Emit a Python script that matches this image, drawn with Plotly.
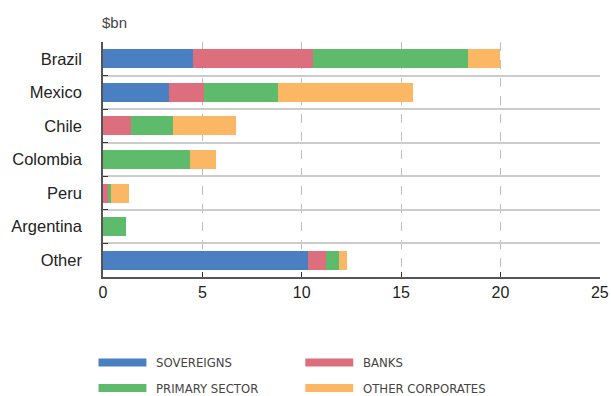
import plotly.graph_objects as go

categories = ["Brazil", "Mexico", "Chile", "Colombia", "Peru", "Argentina", "Other"]
sovereigns = [4.55, 3.3, 0, 0, 0, 0, 10.3]
banks = [6.0, 1.76, 1.4, 0, 0.28, 0, 0.92]
primary = [7.8, 3.74, 2.13, 4.4, 0.1, 1.18, 0.66]
other_corp = [1.65, 6.8, 3.17, 1.27, 0.94, 0, 0.39]

series_names = ["SOVEREIGNS", "BANKS", "PRIMARY SECTOR", "OTHER CORPORATES"]
series_values = [sovereigns, banks, primary, other_corp]
colors = ["#4a7fc1", "#dc6e7e", "#5dbb6b", "#fcb765"]

fig = go.Figure()
for name, vals, col in zip(series_names, series_values, colors):
    fig.add_trace(go.Bar(
        y=categories, x=vals, name=name, orientation="h",
        marker=dict(color=col, line=dict(width=0)),
        showlegend=False,
    ))

W, H = 611, 396
L, R, T, B = 102.5, 11, 42, 119

fig.update_layout(
    width=W, height=H,
    margin=dict(l=L, r=R, t=T, b=B, pad=0, autoexpand=False),
    barmode="stack",
    bargap=0.435,
    plot_bgcolor="white",
    paper_bgcolor="white",
    font=dict(family="Liberation Sans, Arial, sans-serif", color="#222"),
    xaxis=dict(
        range=[0, 25.01], tickvals=[0, 5, 10, 15, 20, 25],
        showgrid=True, gridcolor="#bdbdbd", griddash="dash", gridwidth=1,
        showline=True, linecolor="#555", linewidth=1.5,
        ticks="inside", ticklen=5, tickcolor="#333", tickwidth=1,
        tickfont=dict(size=16, color="#222"),
        zeroline=False, fixedrange=True, automargin=False,
    ),
    yaxis=dict(
        categoryorder="array", categoryarray=categories[::-1],
        range=[-0.5, 6.5],
        tickson="boundaries",
        showgrid=True, gridcolor="#cccccc", gridwidth=1.5,
        showline=True, linecolor="#555", linewidth=1.5,
        ticks="inside", ticklen=5, tickcolor="#333", tickwidth=1,
        tickfont=dict(size=16.5, color="#222"),
        ticklabelstandoff=16,
        zeroline=False, fixedrange=True, automargin=False,
    ),
)

# "$bn" unit label
fig.add_annotation(xref="paper", yref="paper", x=-0.006, y=1 + 20 / (H - T - B),
                   text="$bn", showarrow=False, xanchor="left", yanchor="middle",
                   font=dict(size=15, color="#444"))

# Manual legend (wide swatches) in pixel-converted paper coords
pw = W - L - R
ph = H - T - B
def px_x(x):
    return (x - L) / pw
def px_y(y):
    return (H - B - y) / ph

legend_pos = [(98, 362.5), (305, 362.5), (98, 388), (305, 388)]
for (lx, ly), name, col in zip(legend_pos, series_names, colors):
    fig.add_shape(type="rect", xref="paper", yref="paper",
                  x0=px_x(lx), x1=px_x(lx + 48), y0=px_y(ly - 4), y1=px_y(ly + 4),
                  fillcolor=col, line=dict(width=0))
    fig.add_annotation(xref="paper", yref="paper", x=px_x(lx + 56), y=px_y(ly),
                       text=name, showarrow=False, xanchor="left", yanchor="middle",
                       font=dict(size=13, color="#444",
                                 family="DejaVu Sans Condensed, sans-serif"))

fig.write_html("out.html")
